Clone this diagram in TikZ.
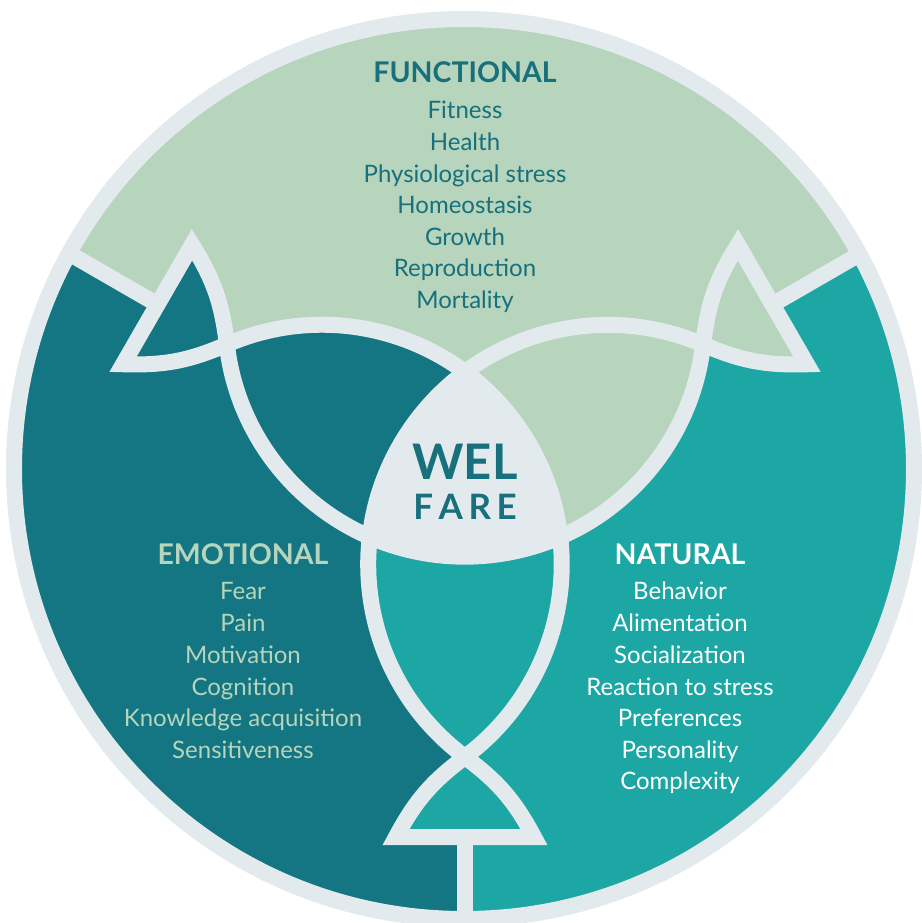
\documentclass[tikz,border=0pt]{standalone}
\usepackage{fontspec}
\setmainfont{Lato}
\definecolor{cgreen}{HTML}{B7D4BC}
\definecolor{cdteal}{HTML}{137682}
\definecolor{cteal}{HTML}{1CA6A4}
\definecolor{cgrey}{HTML}{E3EAEE}
\definecolor{ctxtd}{HTML}{17707C}
\tikzset{
  band/.style={draw=cgrey, line width=16pt},
  tailband/.style={draw=cgrey, line width=16pt, line join=miter, miter limit=10},
  ttl/.style={font=\fontsize{28.5}{32}\selectfont\bfseries, anchor=base},
  itm/.style={font=\fontsize{24}{28}\selectfont, anchor=base},
}
\begin{document}
\begin{tikzpicture}[x=1pt,y=1pt]
\useasboundingbox (-465,-441) rectangle (456,482);
% key points of the three fish (b = bottom, r = right, l = left)
\foreach \r/\n in {0/b,120/r,-120/l}{
  \begin{scope}[rotate=\r]
    \coordinate (\n x) at (0,-275);
    \coordinate (\n p) at (69,-355);
    \coordinate (\n m) at (-69,-355);
    \coordinate (\n c) at (0,-355);
    \coordinate (\n s) at (0,-480);
  \end{scope}
}
\begin{scope}
  \clip (-1,13) circle[radius=450];
  \fill[cdteal] (-1,13) circle[radius=450];
  % green (functional) sector
  \fill[cgreen] (ls) -- (lc) -- (lm) to[bend left=12.6] (lx)
     arc[start angle=113.4, end angle=6.6, radius=239.7]
     arc[start angle=293.4, end angle=353.4, radius=239.7]
     to[bend right=12.6] (rm) -- (rc) -- (rs) -- (600,300) -- (600,600)
     -- (-600,600) -- (-600,300) -- cycle;
  % teal (natural) sector
  \fill[cteal] (bs) -- (bc) -- (bm) to[bend left=12.6] (bx)
     arc[start angle=233.4, end angle=173.4, radius=239.7]
     arc[start angle=246.6, end angle=353.4, radius=239.7]
     to[bend right=12.6] (rm) -- (rc) -- (rs) -- (600,300) -- (600,-600)
     -- (0,-600) -- cycle;
  % centre
  \fill[cgrey] (0,110) arc[start angle=126.6, end angle=173.4, radius=239.7]
     arc[start angle=246.6, end angle=293.4, radius=239.7]
     arc[start angle=6.6, end angle=53.4, radius=239.7] -- cycle;
  % body arcs
  \draw[band] (bx) arc[start angle=233.4, end angle=66.6, radius=239.7];
  \draw[band] (lx) arc[start angle=113.4, end angle=-53.4, radius=239.7];
  \draw[band] (lx) arc[start angle=186.6, end angle=353.4, radius=239.7];
  % tails and stems
  \foreach \n in {b,r,l}{
    \draw[tailband] (\n x) to[bend left=12.6] (\n p) -- (\n m) to[bend left=12.6] (\n x);
    \draw[band] (\n c) -- (\n s);
  }
\end{scope}
\draw[band] (-1,13) circle[radius=450];
% texts
\node[ttl, text=ctxtd] (fun) at (0,399) {FUNCTIONAL};
\foreach \t/\y [count=\i] in {Fitness/363.5, Health/331.5, Physiological stress/299.5, Homeostasis/268.5, Growth/236.5, Reproduction/205.5, Mortality/173.5}
  \node[itm, text=ctxtd] (f\i) at (0,\y) {\t};
\node[ttl, text=cgreen] (emo) at (-222,-83) {EMOTIONAL};
\foreach \t/\y [count=\i] in {Fear/-117.5, Pain/-149.5, Motivation/-181.5, Cognition/-213.5, Knowledge acquisition/-244.5, Sensitiveness/-276.5}
  \node[itm, text=cgreen] (e\i) at (-222,\y) {\t};
\node[ttl, text=white] (nat) at (215,-83) {NATURAL};
\foreach \t/\y [count=\i] in {Behavior/-117.5, Alimentation/-149.5, Socialization/-181.5, Reaction to stress/-213.5, Preferences/-244.5, Personality/-276.5, Complexity/-307.5}
  \node[itm, text=white] (n\i) at (215,\y) {\t};
\node[font=\fontsize{49}{50}\selectfont\bfseries, text=ctxtd, anchor=base] (wel) at (0,2) {WEL};
\node[font=\fontsize{35}{40}\selectfont\bfseries, text=ctxtd, anchor=base] (fare) at (0,-38) {F\kern5.5pt A\kern5.5pt R\kern5.5pt E};
\end{tikzpicture}
\end{document}
